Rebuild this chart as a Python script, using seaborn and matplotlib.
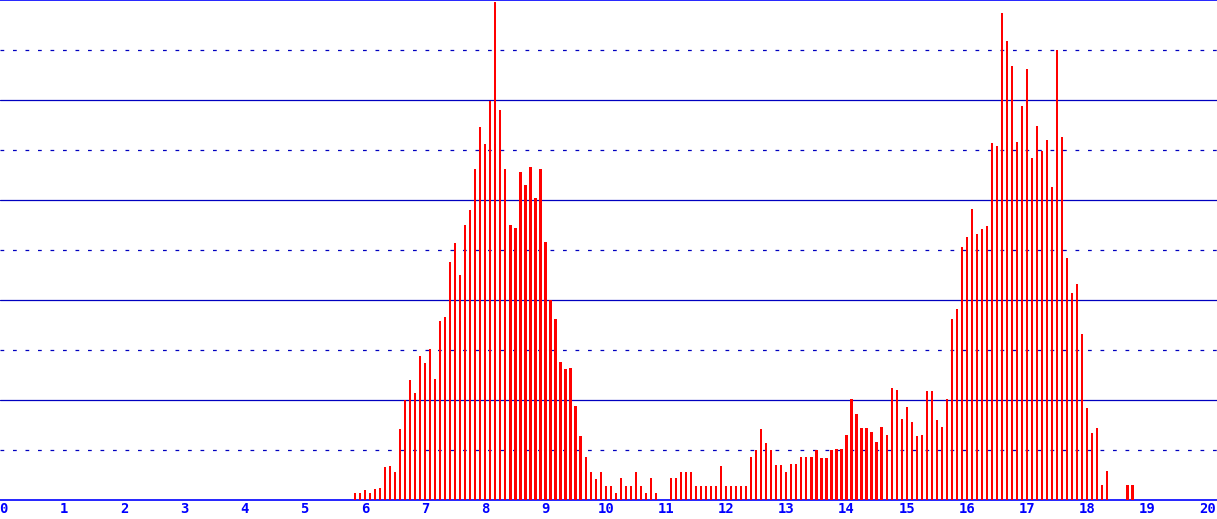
import matplotlib
matplotlib.use('Agg')
import matplotlib.pyplot as plt
import seaborn as sns
import numpy as np
import pandas as pd

# histogram bins are 1/12 wide, first non-empty bin is bin 70 (x = 5.83)
first_bin = 70
bins_per_unit = 12
counts = [
    0.14, 0.14, 0.20, 0.14, 0.22, 0.24, 0.66, 0.68, 0.56, 1.42,
    2.00, 2.40, 2.14, 2.87, 2.73, 3.01, 2.42, 3.57, 3.65, 4.75,
    5.13, 4.49, 5.49, 5.79, 6.61, 7.45, 7.11, 7.98, 9.96, 7.80,
    6.61, 5.49, 5.43, 6.55, 6.29, 6.65, 6.03, 6.61, 5.15, 3.99,
    3.61, 2.75, 2.61, 2.63, 1.88, 1.28, 0.86, 0.56, 0.42, 0.56,
    0.28, 0.28, 0.14, 0.44, 0.28, 0.28, 0.56, 0.28, 0.14, 0.44,
    0.14, 0.00, 0.00, 0.44, 0.44, 0.56, 0.56, 0.56, 0.28, 0.28,
    0.28, 0.28, 0.28, 0.68, 0.28, 0.28, 0.28, 0.28, 0.28, 0.86,
    1.00, 1.42, 1.14, 1.00, 0.70, 0.70, 0.56, 0.72, 0.72, 0.86,
    0.86, 0.86, 1.00, 0.84, 0.84, 1.00, 1.02, 1.02, 1.30, 2.02,
    1.72, 1.44, 1.44, 1.36, 1.16, 1.46, 1.30, 2.24, 2.20, 1.62,
    1.86, 1.56, 1.28, 1.30, 2.18, 2.18, 1.60, 1.46, 2.02, 3.61,
    3.81, 5.05, 5.25, 5.81, 5.31, 5.41, 5.47, 7.13, 7.07, 9.74,
    9.18, 8.68, 7.15, 7.88, 8.62, 6.83, 7.48, 6.97, 7.19, 6.25,
    9.00, 7.25, 4.83, 4.13, 4.31, 3.31, 1.84, 1.34, 1.44, 0.30,
    0.58, 0.00, 0.00, 0.00, 0.30, 0.30,
]
x_ticks = list(range(0, 21))

df = pd.DataFrame({
    'x': (first_bin + np.arange(len(counts))) / bins_per_unit,
    'count': counts,
})

sns.set_style('white')
fig = plt.figure(figsize=(12.17, 5.19), dpi=100)
ax = fig.add_axes([0, 19.5 / 519, 1, 499.5 / 519])

sns.barplot(data=df, x='x', y='count', native_scale=True, color='#ff0000',
            saturation=1, errorbar=None, width=0.45, linewidth=0, ax=ax, zorder=3)
for p in ax.patches:
    p.set_antialiased(False)

ax.set_xlim(-3.7 / 60.2, 1213.3 / 60.2)
ax.set_ylim(0, 10)

ax.set_xticks(x_ticks)
ax.set_xticklabels([str(t) for t in x_ticks], color='#0000ff',
                   fontsize=10, fontweight='bold', family='DejaVu Sans Mono')
ax.tick_params(axis='x', length=0, pad=1.5)

ax.set_yticks([2, 4, 6, 8])
ax.set_yticks([1, 3, 5, 7, 9], minor=True)
ax.tick_params(axis='y', which='both', length=0, labelleft=False)
ax.grid(False)
ax.grid(which='major', axis='y', color='#0000c0', linewidth=0.9, linestyle='-')
ax.grid(which='minor', axis='y', color='#0000c0', linewidth=0.9, linestyle=(0, (3, 7)))
ax.set_axisbelow(True)

ax.set_xlabel('')
ax.set_ylabel('')
for side in ['left', 'right']:
    ax.spines[side].set_visible(False)
for side in ['top', 'bottom']:
    ax.spines[side].set_visible(True)
    ax.spines[side].set_color('#0000ff')
    ax.spines[side].set_linewidth(1.2)

fig.savefig('out.png', dpi=100)
